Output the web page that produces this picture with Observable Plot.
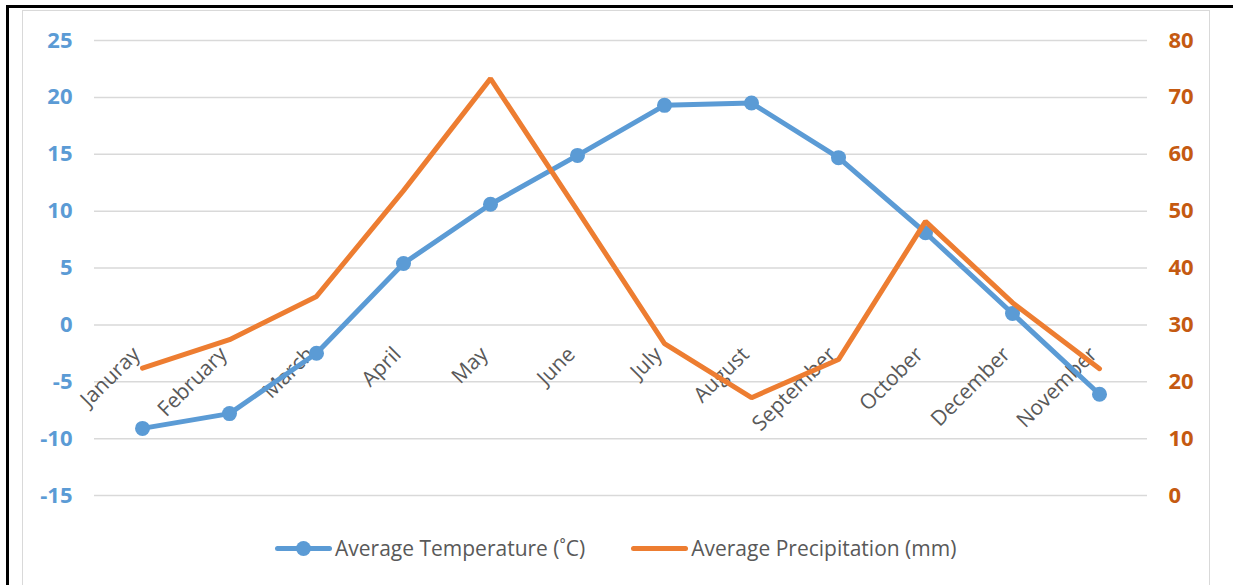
<!DOCTYPE html>
<html>
<head>
<meta charset="utf-8">
<script src="https://cdn.jsdelivr.net/npm/d3@7"></script>
<script src="https://cdn.jsdelivr.net/npm/@observablehq/plot@0.6"></script>
<style>
  html, body { margin: 0; padding: 0; background: #fff; }
  #page { position: relative; width: 1233px; height: 585px; overflow: hidden; font-family: "Open Sans", sans-serif; }
  #black-left { position: absolute; left: 6px; top: 5px; width: 2.5px; height: 700px; background: #000; }
  #black-top { position: absolute; left: 6px; top: 5px; width: 1300px; height: 2.5px; background: #000; }
  #gray { position: absolute; left: 22px; top: 10px; width: 1188px; height: 700px; border: 1.5px solid #d9d9d9; box-sizing: border-box; }
  #chart { position: absolute; left: 0; top: 0; }
  #legend { position: absolute; top: 534px; left: 275px; display: flex; align-items: center; color: #595959; font-size: 21px; white-space: nowrap; }
  .item { display: flex; align-items: center; }
  .sw { position: relative; width: 57px; height: 26px; margin-right: 3px; }
  .sw .ln { position: absolute; left: 0; right: 0; top: 11px; height: 5px; border-radius: 2.5px; }
  .sw .dt { position: absolute; left: 21px; top: 6px; width: 15px; height: 15px; border-radius: 50%; }
</style>
</head>
<body>
<div id="page">
  <div id="black-left"></div>
  <div id="black-top"></div>
  <div id="gray"></div>
  <div id="chart"></div>
  <div id="legend"></div>
</div>
<script>
const months = ["Januray","February","March","April","May","June","July","August","September","October","December","November"];
const temperature = [-9.1, -7.8, -2.5, 5.4, 10.6, 14.9, 19.3, 19.5, 14.7, 8.1, 1.0, -6.1];
const precipitation = [22.4, 27.4, 35.0, 53.6, 73.3, 50.1, 26.7, 17.2, 23.9, 48.2, 33.9, 22.3];
const tempTicks = [-15, -10, -5, 0, 5, 10, 15, 20, 25];
const precipTicks = [0, 10, 20, 30, 40, 50, 60, 70, 80];
const seriesNames = ["Average Temperature (˚C)", "Average Precipitation (mm)"];
const colors = { temp: "#5b9bd5", precip: "#ed7d31", precipAxis: "#c55a11", text: "#595959", grid: "#d9d9d9" };

// secondary axis mapping: precipitation [0,80] -> temperature [-15,25]
const toT = p => p / 2 - 15;
const toP = t => (t + 15) * 2;

const tempData = months.map((m, i) => ({ month: m, value: temperature[i] }));
const precipData = months.map((m, i) => ({ month: m, value: toT(precipitation[i]) }));

const plot = Plot.plot({
  width: 1233,
  height: 525,
  marginLeft: 94,
  marginRight: 86,
  marginTop: 40,
  marginBottom: 30,
  style: { background: "transparent", fontFamily: "Open Sans, sans-serif", overflow: "visible" },
  x: { type: "point", domain: months, padding: 0.5, axis: null },
  y: { domain: [-15, 25], nice: false, axis: null },
  marks: [
    Plot.ruleY(tempTicks, { stroke: colors.grid, strokeWidth: 1.5 }),
    Plot.axisY({ anchor: "left", ticks: tempTicks, tickSize: 0, tickPadding: 22, tickFormat: d => String(d), fill: colors.temp, fontSize: 22, fontWeight: "bold", label: null }),
    Plot.axisY({ anchor: "right", ticks: precipTicks.map(toT), tickSize: 0, tickPadding: 21, tickFormat: d => String(Math.round(toP(d))), fill: colors.precipAxis, fontSize: 22, fontWeight: "bold", label: null, textAnchor: "start" }),
    Plot.text(months, { x: d => d, y: () => 0, text: d => d, rotate: -45, textAnchor: "end", lineAnchor: "middle", dx: -6, dy: 26, fill: colors.text, fontSize: 21 }),
    Plot.line(tempData, { x: "month", y: "value", stroke: colors.temp, strokeWidth: 5, strokeLinejoin: "round", strokeLinecap: "round" }),
    Plot.dot(tempData, { x: "month", y: "value", r: 7.5, fill: colors.temp }),
    Plot.line(precipData, { x: "month", y: "value", stroke: colors.precip, strokeWidth: 5, strokeLinejoin: "miter", strokeLinecap: "round" })
  ]
});
document.getElementById("chart").appendChild(plot);

const legend = document.getElementById("legend");
legend.innerHTML = `
  <div class="item">
    <div class="sw"><div class="ln" style="background:${colors.temp}"></div><div class="dt" style="background:${colors.temp}"></div></div>
    <span>${seriesNames[0]}</span>
  </div>
  <div class="item" style="margin-left:46px">
    <div class="sw"><div class="ln" style="background:${colors.precip}"></div></div>
    <span>${seriesNames[1]}</span>
  </div>`;
</script>
</body>
</html>
